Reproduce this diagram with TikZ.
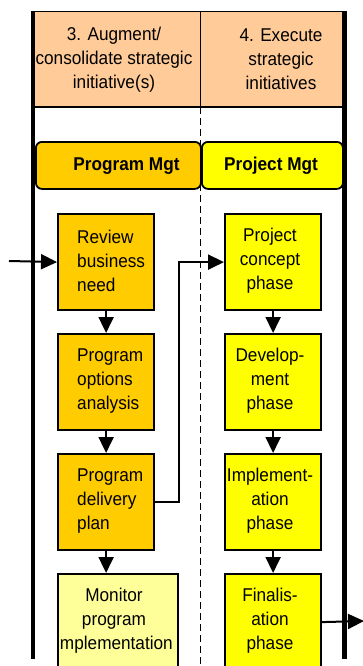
\documentclass[tikz,border=0pt]{standalone}
\usepackage{fontspec}
\setmainfont[FakeStretch=0.93]{Liberation Sans}
\usetikzlibrary{arrows.meta}

\definecolor{hdrpeach}{HTML}{FFCC99}
\definecolor{pgmorange}{HTML}{FFCC00}
\definecolor{prjyellow}{HTML}{FFFF00}
\definecolor{paleyellow}{HTML}{FFFF99}

\tikzset{
  lbl/.style={font=\fontsize{18.5}{24}\selectfont, inner sep=0pt, align=center},
  stepbox/.style={draw=black, line width=2.2pt, minimum width=96pt,
    minimum height=96pt, inner sep=0pt, anchor=north west},
  lanebox/.style={draw=black, line width=1.8pt, rounded corners=6pt,
    minimum height=47pt, inner sep=0pt, anchor=north west},
  flow/.style={line width=2pt, -{Triangle[length=16pt,width=15pt]}},
  lane/.style={line width=#1},
}

\begin{document}
\begin{tikzpicture}[x=1pt,y=-1pt]
  \useasboundingbox (0,0) rectangle (363,666);
  \clip (0,0) rectangle (363,666);

  % column headings
  \fill[hdrpeach] (35,12) rectangle (342,107);
  \draw[line width=1.8pt] (33,11.5) -- (344,11.5);
  \draw[line width=1.3pt] (35,107) -- (342,107);
  \draw[line width=1.3pt] (200.5,12) -- (200.5,107);
  \node[lbl] (head3) at (114,59.5) {3. Augment/\\consolidate strategic\\initiative(s)};
  \node[lbl] (head4) at (281,59.5) {4. Execute\\strategic\\initiatives};

  % lane divider
  \draw[line width=1.6pt, dash pattern=on 7pt off 4pt] (200.5,107) -- (200.5,666);

  % swimlane titles
  \node[lanebox, fill=pgmorange, minimum width=165pt] (pgm) at (35,141) {};
  \node[lbl, font=\fontsize{18.5}{24}\selectfont\bfseries] (pgm-t) at (126.5,166) {Program Mgt};
  \node[lanebox, fill=prjyellow, minimum width=141pt] (prj) at (201,141) {};
  \node[lbl, font=\fontsize{18.5}{24}\selectfont\bfseries] (prj-t) at (271,166) {Project Mgt};

  % program management steps
  \node[stepbox, fill=pgmorange] (review) at (57,213) {};
  \node[lbl, align=left, anchor=west] (review-t) at (77,261) {Review\\business\\need};
  \node[stepbox, fill=pgmorange] (options) at (57,333) {};
  \node[lbl, align=left, anchor=west] (options-t) at (77,381) {Program\\options\\analysis};
  \node[stepbox, fill=pgmorange] (delivery) at (57,453) {};
  \node[lbl, align=left, anchor=west] (delivery-t) at (77,501) {Program\\delivery\\plan};
  \node[stepbox, fill=paleyellow, minimum width=120pt] (monitor) at (57,573) {};
  \begin{scope}
    \clip (58.2,574) rectangle (176,666);
    \node[lbl] (monitor-t) at (114,621) {Monitor\\program\\Implementation};
  \end{scope}

  % project management steps
  \node[stepbox, fill=prjyellow] (concept) at (224,213) {};
  \node[lbl] (concept-t) at (270,261) {Project\\concept\\phase};
  \node[stepbox, fill=prjyellow] (develop) at (224,333) {};
  \node[lbl] (develop-t) at (270,381) {Develop-\\ment\\phase};
  \node[stepbox, fill=prjyellow] (implement) at (224,453) {};
  \node[lbl] (implement-t) at (270,501) {Implement-\\ation\\phase};
  \node[stepbox, fill=prjyellow] (final) at (224,573) {};
  \node[lbl] (final-t) at (270,621) {Finalis-\\ation\\phase};

  % pool boundaries
  \draw[lane=4pt] (33,11) -- (33,659);
  \draw[lane=5pt] (344.5,11) -- (344.5,659);

  % connectors
  \coordinate (inflow) at (9,261);
  \coordinate (outflow) at (364,621);
  \draw[flow] (inflow) -- (review.west);
  \draw[flow] (review.south) -- (options.north);
  \draw[flow] (options.south) -- (delivery.north);
  \draw[flow] (delivery.south) -- (delivery.south |- monitor.north);
  \draw[flow] (delivery.east) -- ++(24,0) |- (concept.west);
  \draw[flow] (concept.south) -- (develop.north);
  \draw[flow] (develop.south) -- (implement.north);
  \draw[flow] (implement.south) -- (final.north);
  \draw[flow] (final.east) -- (outflow);
\end{tikzpicture}
\end{document}
